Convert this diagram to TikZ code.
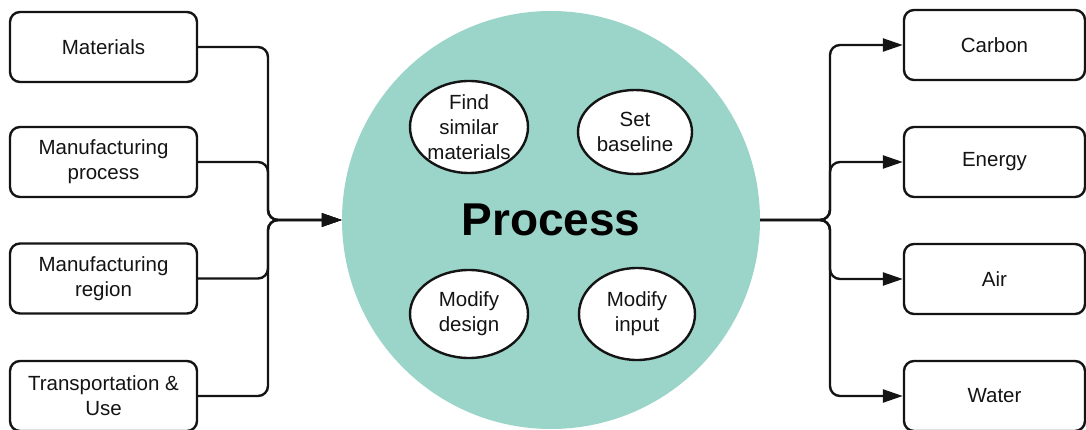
\documentclass[tikz,border=0pt]{standalone}
\usepackage{fontspec}
\setmainfont{Liberation Sans}
\usetikzlibrary{arrows.meta,shapes.geometric}
\definecolor{tealfill}{RGB}{155,212,201}
\definecolor{inkcol}{RGB}{20,20,20}
\tikzset{
  box/.style={draw=inkcol, line width=2.4pt, rounded corners=10pt, fill=white,
    minimum height=70pt, inner sep=0pt, align=center, text=inkcol,
    font=\fontsize{20.5pt}{25pt}\selectfont},
  inbox/.style={box, minimum width=187pt},
  outbox/.style={box, minimum width=181pt},
  bubble/.style={ellipse, draw=inkcol, line width=2.4pt, fill=white, inner sep=0pt,
    align=center, text=inkcol, font=\fontsize{20.5pt}{25pt}\selectfont},
  link/.style={draw=inkcol, line width=2.4pt, rounded corners=10pt},
  tip/.style={-{Triangle[length=20pt,width=13pt]}}
}
\begin{document}
\begin{tikzpicture}[x=1pt,y=-1pt]
\useasboundingbox (0,0) rectangle (1086,430);

% central process disc
\node[circle, fill=tealfill, minimum size=418pt, inner sep=0pt,
      font=\fontsize{46pt}{50pt}\selectfont\bfseries] (circ) at (551,220) {Process};

% activities inside the disc
\node[bubble, minimum width=118pt, minimum height=92pt] (find) at (469,127) {Find\\similar\\materials};
\node[bubble, minimum width=114pt, minimum height=84pt] (base) at (635,132) {Set\\baseline};
\node[bubble, minimum width=118pt, minimum height=88pt] (mdes) at (469,314) {Modify\\design};
\node[bubble, minimum width=116pt, minimum height=92pt] (minp) at (637,314) {Modify\\input};

% inputs
\node[inbox] (mat) at (103.5,47) {Materials};
\node[inbox] (mproc) at (103.5,162) {Manufacturing\\process};
\node[inbox] (mreg) at (103.5,278.5) {Manufacturing\\region};
\node[inbox] (trans) at (103.5,396) {Transportation \&\\Use};

% outputs
\node[outbox] (carb) at (994.5,45) {Carbon};
\node[outbox] (ener) at (994.5,162) {Energy};
\node[outbox] (air) at (994.5,279) {Air};
\node[outbox] (wat) at (994.5,396) {Water};

% junction points of the two buses
\coordinate (jL) at (268,220);
\coordinate (jR) at (830,220);

% inputs merge into the process
\foreach \src in {mat,mproc,mreg,trans}
  \draw[link, tip] (\src.east) -| (jL) -- (circ.west);

% process splits into the outputs
\foreach \dst in {carb,ener,air,wat}
  \draw[link, tip] (circ.east) -- (jR) |- (\dst.west);
\end{tikzpicture}
\end{document}
